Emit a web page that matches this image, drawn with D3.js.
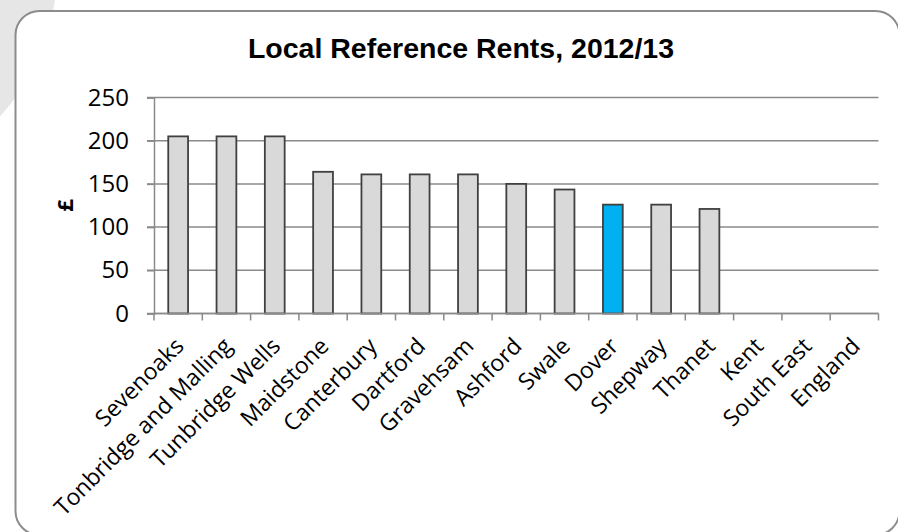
<!DOCTYPE html>
<html>
<head>
<meta charset="utf-8">
<script src="https://cdn.jsdelivr.net/npm/d3@7"></script>
<style>
  body { margin: 0; background: #fff; }
  svg { display: block; }
</style>
</head>
<body>
<div id="chart"></div>
<script>
// data
let areas = ["Sevenoaks", "Tonbridge and Malling", "Tunbridge Wells", "Maidstone", "Canterbury",
    "Dartford", "Gravehsam", "Ashford", "Swale", "Dover", "Shepway", "Thanet",
    "Kent", "South East", "England"];
let rents = [205, 205, 205, 164, 161, 161, 161, 150, 143.5, 126, 126, 121, null, null, null];
let highlight = ["Dover"];
let yTicks = [0, 50, 100, 150, 200, 250];

let width = 898, height = 532;
let plot = {left: 154, right: 878.5, top: 97.5, bottom: 313.5};

let svg = d3.select("#chart")
    .append("svg")
    .attr("width", width)
    .attr("height", height);

// grey blob behind the frame, top-left
svg.append("circle")
    .attr("cx", -160)
    .attr("cy", -30)
    .attr("r", 217)
    .attr("fill", "#e6e6e6");

// chart frame
svg.append("rect")
    .attr("x", 15.5)
    .attr("y", 11)
    .attr("width", 884)
    .attr("height", 524)
    .attr("rx", 24)
    .attr("fill", "#fff")
    .attr("stroke", "#8c8c8c")
    .attr("stroke-width", 2);

let x = d3.scaleBand()
    .domain(areas)
    .range([plot.left, plot.right])
    .paddingInner(0.59)
    .paddingOuter(0.295);

let y = d3.scaleLinear()
    .domain([0, 250])
    .range([plot.bottom, plot.top]);

// gridlines
svg.append("g")
    .selectAll("line")
    .data(yTicks)
    .enter()
    .append("line")
    .attr("x1", plot.left - 7)
    .attr("x2", plot.right)
    .attr("y1", d => y(d))
    .attr("y2", d => y(d))
    .attr("stroke", "#8a8a8a")
    .attr("stroke-width", 1.5);

// y axis
let yAxis = svg.append("g")
    .attr("transform", `translate(${plot.left}, 0)`)
    .call(d3.axisLeft(y).tickValues(yTicks).tickSize(7).tickPadding(18));
yAxis.select(".domain").attr("stroke", "#8a8a8a").attr("stroke-width", 1.5);
yAxis.selectAll(".tick line").attr("stroke", "#8a8a8a").attr("stroke-width", 1.5);
yAxis.selectAll(".tick text")
    .attr("font-family", "'Open Sans', sans-serif")
    .attr("font-size", 24)
    .attr("fill", "#000");

// bars
svg.append("g")
    .selectAll("rect")
    .data(areas.map((a, i) => ({area: a, rent: rents[i]})).filter(d => d.rent != null))
    .enter()
    .append("rect")
    .attr("x", d => x(d.area))
    .attr("y", d => y(d.rent))
    .attr("width", x.bandwidth())
    .attr("height", d => y(0) - y(d.rent))
    .attr("fill", d => highlight.includes(d.area) ? "#00b0f0" : "#d9d9d9")
    .attr("stroke", "#404040")
    .attr("stroke-width", 1.8);

// x axis with ticks at category boundaries
let step = x.step();
let bounds = d3.range(areas.length + 1).map(i => plot.left + i * step);
let xAxis = svg.append("g");
xAxis.append("line")
    .attr("x1", plot.left)
    .attr("x2", plot.right)
    .attr("y1", plot.bottom)
    .attr("y2", plot.bottom)
    .attr("stroke", "#8a8a8a")
    .attr("stroke-width", 1.5);
xAxis.selectAll(".xtick")
    .data(bounds)
    .enter()
    .append("line")
    .attr("class", "xtick")
    .attr("x1", d => d)
    .attr("x2", d => d)
    .attr("y1", plot.bottom)
    .attr("y2", plot.bottom + 7)
    .attr("stroke", "#8a8a8a")
    .attr("stroke-width", 1.5);

xAxis.selectAll(".xlabel")
    .data(areas)
    .enter()
    .append("text")
    .attr("class", "xlabel")
    .attr("transform", d => `translate(${x(d) + x.bandwidth() / 2 + 7}, ${plot.bottom + 34}) rotate(-45)`)
    .attr("text-anchor", "end")
    .attr("font-family", "'Open Sans', sans-serif")
    .attr("font-size", 23)
    .attr("fill", "#000")
    .text(d => d);

// y axis label
svg.append("text")
    .attr("transform", "translate(72.5, 205.5) rotate(-90)")
    .attr("text-anchor", "middle")
    .attr("font-family", "'Open Sans', sans-serif")
    .attr("font-weight", "bold")
    .attr("font-size", 22)
    .text("£");

// title
svg.append("text")
    .attr("x", 461)
    .attr("y", 57.5)
    .attr("text-anchor", "middle")
    .attr("font-family", "'Liberation Sans', Arial, sans-serif")
    .attr("font-weight", "bold")
    .attr("font-size", 28.5)
    .text("Local Reference Rents, 2012/13");
</script>
</body>
</html>
